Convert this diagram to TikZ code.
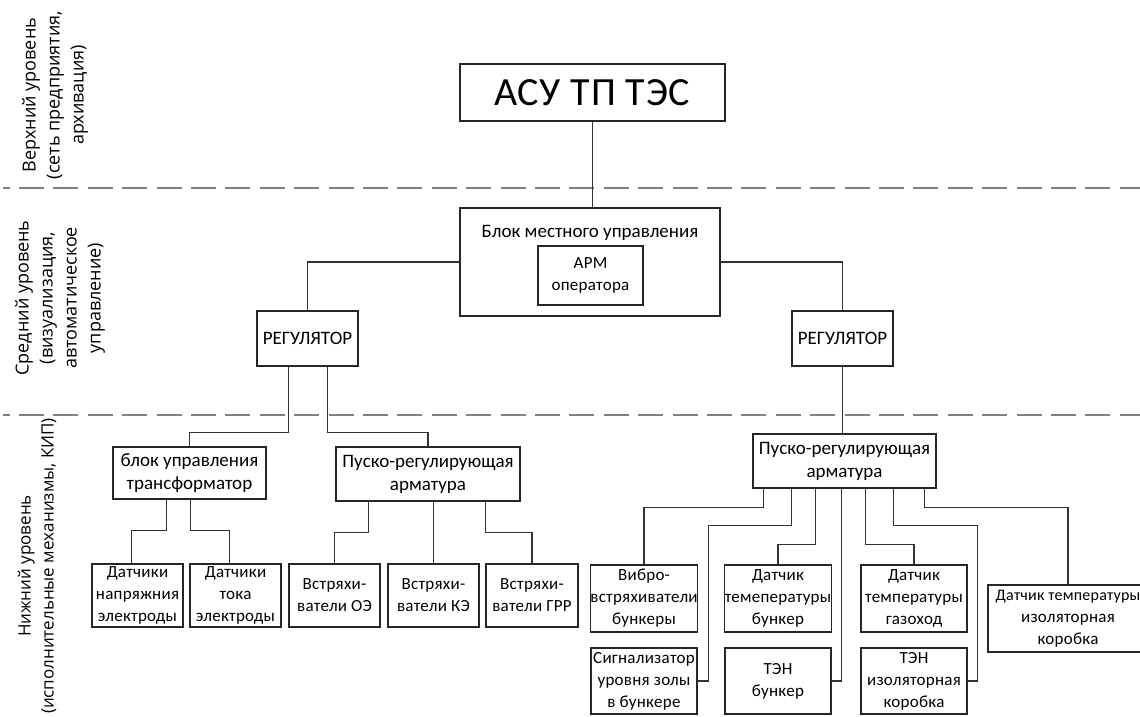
\documentclass[tikz,border=0pt]{standalone}
\usepackage{fontspec}
\setmainfont{Carlito}
\newfontfamily\labelfont{Open Sans}
\newfontfamily\boxfont{Carlito}
\newfontfamily\smallboxfont{Carlito}[LetterSpace=1.5]
\newfontfamily\titlefont{Carlito}[LetterSpace=2]
\usetikzlibrary{calc}
% \bx{style}{name}{x1}{y1}{x2}{y2}{text}
\newcommand\bx[7]{\node[box,#1, minimum width={(#5-#3)*1pt}, minimum height={(#6-#4)*1pt}] (#2) at ({(#3+#5)/2},{(#4+#6)/2}) {#7};}
\begin{document}
\begin{tikzpicture}[x=1pt,y=-1pt,
  box/.style={draw=black!85, line width=1.3pt, inner sep=0pt, align=center,
    font=\smallboxfont\fontsize{17}{22}\selectfont},
  big/.style={font=\boxfont\fontsize{19}{23}\selectfont},
  title/.style={font=\titlefont\fontsize{40}{44}\selectfont},
  plain/.style={align=center, inner sep=0pt},
  link/.style={draw=black!80, line width=1.1pt},
  levelline/.style={draw=black!50, line width=1.5pt, dash pattern=on 25pt off 9.4pt, dash phase=18.4pt},
  lvl/.style={rotate=90, align=center, inner sep=0pt, font=\labelfont\fontsize{18}{24}\selectfont}]
\useasboundingbox (0,0) rectangle (1140,716);

% level separators
\draw[levelline] (3,188) -- (1145,188);
\draw[levelline] (3,415) -- (1145,415);

% level labels
\node[lvl] (l1) at (55,95) {Верхний уровень\\(сеть предприятия,\\архивация)};
\node[lvl] (l2) at (60,298) {Средний уровень\\(визуализация,\\автоматическое\\управление)};
\node[lvl, font=\labelfont\fontsize{17}{23}\selectfont] (l3) at (37,566) {Нижний уровень\\(исполнительные механизмы, КИП)};

% top
\bx{title}{top}{460}{64}{725}{121}{АСУ ТП ТЭС}
% middle
\bx{}{mid}{460}{208}{720}{316}{}
\node[plain, big] (midlbl) at (590,233) {Блок местного управления};
\bx{}{arm}{538}{246}{643}{305}{АРМ\\оператора}
\bx{big}{reg1}{257}{311}{358}{366}{РЕГУЛЯТОР}
\bx{big}{reg2}{792}{311}{893}{366}{РЕГУЛЯТОР}

% lower left
\bx{big}{blk}{113}{447}{266}{499}{блок управления\\трансформатор}
\bx{big}{pr1}{336}{447}{520}{501}{Пуско-регулирующая\\арматура}
\bx{}{dn}{92}{564}{183}{627}{Датчики\\напряжния\\электроды}
\bx{}{dt}{190}{564}{281}{627}{Датчики\\тока\\электроды}
\bx{}{v1}{289}{564}{380}{627}{Встряхи-\\ватели ОЭ}
\bx{}{v2}{388}{564}{479}{627}{Встряхи-\\ватели КЭ}
\bx{}{v3}{486}{564}{578}{627}{Встряхи-\\ватели ГРР}

% lower right
\bx{big}{pr2}{753}{434}{936}{488}{Пуско-регулирующая\\арматура}
\bx{}{vib}{591}{565}{697}{632}{Вибро-\\встряхиватели\\бункеры}
\bx{}{sig}{591}{648}{697}{714}{Сигнализатор\\уровня золы\\в бункере}
\bx{}{dtb}{725}{565}{831}{632}{Датчик\\темепературы\\бункер}
\bx{}{tenb}{725}{648}{831}{714}{ТЭН\\бункер}
\bx{}{dtg}{861}{565}{967}{632}{Датчик\\температуры\\газоход}
\bx{}{teni}{861}{648}{967}{714}{ТЭН\\изоляторная\\коробка}
\bx{}{dti}{988}{585}{1148}{652}{\fontsize{16}{22}\selectfont Датчик температуры\\изоляторная\\коробка}

% connectors
\draw[link] (top.south) -- (top.south |- mid.north);
\draw[link] (mid.west) -| (reg1.north);
\draw[link] (mid.east) -| (reg2.north);
\draw[link] ([xshift=32pt]reg1.south west) -- ++(0,66) -| (blk.north);
\draw[link] ([xshift=71pt]reg1.south west) -- ++(0,66) -| (pr1.north);
\draw[link] (reg2.south) -- (reg2.south |- pr2.north);

\draw[link] ([xshift=54pt]blk.south west) -- ++(0,31) -| ([xshift=-6pt]dn.north);
\draw[link] ([xshift=78pt]blk.south west) -- ++(0,31) -| ([xshift=-6pt]dt.north);
\draw[link] ([xshift=33pt]pr1.south west) -- ++(0,31) -| (v1.north);
\draw[link] (v2.north |- pr1.south) -- (v2.north);
\draw[link] ([xshift=150pt]pr1.south west) -- ++(0,31) -| (v3.north);

\draw[link] ([xshift=11pt]pr2.south west) -- ++(0,19) -| (vib.north);
\draw[link] ([xshift=39pt]pr2.south west) -- ++(0,37) -- ++(-83,0) |- (sig.east);
\draw[link] ([xshift=63pt]pr2.south west) -- ++(0,56) -| (dtb.north);
\draw[link] ([xshift=89pt]pr2.south west) |- (tenb.east);
\draw[link] ([xshift=113pt]pr2.south west) -- ++(0,56) -| (dtg.north);
\draw[link] ([xshift=141pt]pr2.south west) -- ++(0,37) -- ++(84,0) |- (teni.east);
\draw[link] ([xshift=172pt]pr2.south west) -- ++(0,19) -| (dti.north);
\end{tikzpicture}
\end{document}
